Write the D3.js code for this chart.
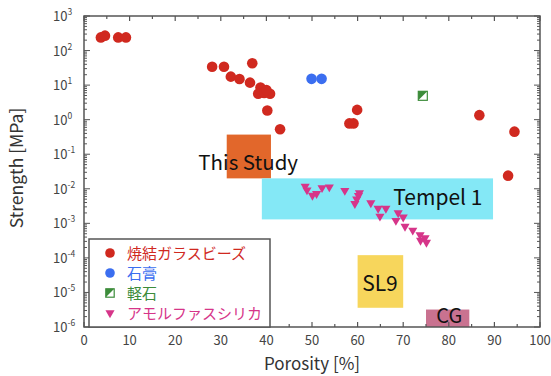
<!DOCTYPE html>
<html>
<head>
<meta charset="utf-8">
<script src="https://cdn.jsdelivr.net/npm/d3@7"></script>
<style>
  body { margin: 0; background: #fff; }
  text { font-family: "Noto Sans CJK JP", "Noto Sans", sans-serif; }
</style>
</head>
<body>
<div id="chart"></div>
<script>
// sintered glass beads
const sinteredGlass = [
  [3.7, 240], [4.6, 270], [7.5, 240], [9.2, 240],
  [28.1, 34], [30.7, 34], [32.2, 17.6], [34.1, 15], [36.9, 43],
  [36.4, 11.8], [38.7, 8.5], [38.2, 5.6], [39.5, 5.9], [40.8, 5.6],
  [40.0, 7.2], [40.2, 1.85], [43.0, 0.53],
  [58.2, 0.78], [59.1, 0.78], [59.9, 1.92],
  [86.7, 1.35], [94.4, 0.45], [93.0, 0.024]
];
const gypsum = [[49.9, 15.2], [52.1, 15.2]];
const pumice = [[74.3, 4.9]];
const amorphousSilica = [
  [48.5, 0.0118], [48.9, 0.0092], [50.1, 0.0064], [51.0, 0.0072],
  [52.2, 0.0107], [53.8, 0.0112], [57.2, 0.0089], [60.4, 0.0076],
  [60.2, 0.0063], [59.8, 0.0050], [59.4, 0.0037], [62.9, 0.0039],
  [64.5, 0.0027], [66.2, 0.0027], [64.9, 0.0016], [68.9, 0.0020],
  [70.0, 0.0015], [68.4, 0.0012], [70.4, 0.00081], [72.1, 0.00063],
  [73.7, 0.00046], [74.8, 0.00038], [73.8, 0.00032], [75.1, 0.00028]
];

// regions: name, x range, strength range
const regionNames = ["This Study", "Tempel 1", "SL9", "CG"];
const regionX = [[31.3, 41], [39, 89.7], [60, 70], [75, 84.5]];
const regionY = [[0.02, 0.37], [0.0013, 0.02], [3.6e-6, 1.2e-4], [1e-6, 3.2e-6]];
const regionColors = ["#e2672b", "#84e8f6", "#f7d65c", "#c97290"];
// label anchor (porosity, strength at baseline)
const regionLabelAt = [[36, 0.034], [77.6, 0.00345], [64.9, 1.1e-5], [80.1, 1.3e-6]];
const regionLabelSize = [20.5, 21, 21, 20];

const legendLabels = ["焼結ガラスビーズ", "石膏", "軽石", "アモルファスシリカ"];
const legendColors = ["#d0291f", "#3b6ef0", "#3c8c3a", "#d63589"];

const xTicks = [0, 10, 20, 30, 40, 50, 60, 70, 80, 90, 100];
const yExps = [-6, -5, -4, -3, -2, -1, 0, 1, 2, 3];

const width = 551, height = 376;
const margin = { left: 84, right: 11, top: 16, bottom: 49 };

const svg = d3.select("#chart").append("svg")
  .attr("width", width).attr("height", height);

const x = d3.scaleLinear().domain([0, 100]).range([margin.left, width - margin.right]);
const y = d3.scaleLog().domain([1e-6, 1e3]).range([height - margin.bottom, margin.top]);

const axisColor = "#555";

// colored regions
regionNames.forEach((name, i) => {
  svg.append("rect")
    .attr("x", x(regionX[i][0]))
    .attr("y", y(regionY[i][1]))
    .attr("width", x(regionX[i][1]) - x(regionX[i][0]))
    .attr("height", y(regionY[i][0]) - y(regionY[i][1]))
    .attr("fill", regionColors[i]);
});

// region labels
regionNames.forEach((name, i) => {
  svg.append("text")
    .attr("x", x(regionLabelAt[i][0])).attr("y", y(regionLabelAt[i][1]))
    .attr("text-anchor", "middle").attr("font-size", regionLabelSize[i])
    .attr("fill", "#111")
    .text(name);
});

// frame
svg.append("rect")
  .attr("x", x(0)).attr("y", y(1e3))
  .attr("width", x(100) - x(0)).attr("height", y(1e-6) - y(1e3))
  .attr("fill", "none").attr("stroke", axisColor).attr("stroke-width", 1.5);

// x ticks (major every 10, minor every 5), inward top and bottom
d3.range(0, 101, 5).forEach(v => {
  const len = v % 10 === 0 ? 5 : 3;
  svg.append("line").attr("x1", x(v)).attr("x2", x(v))
    .attr("y1", y(1e-6)).attr("y2", y(1e-6) - len)
    .attr("stroke", axisColor).attr("stroke-width", 1.2);
  svg.append("line").attr("x1", x(v)).attr("x2", x(v))
    .attr("y1", y(1e3)).attr("y2", y(1e3) + len)
    .attr("stroke", axisColor).attr("stroke-width", 1.2);
});
xTicks.forEach(v => {
  svg.append("text").attr("x", x(v)).attr("y", y(1e-6) + 18)
    .attr("text-anchor", "middle").attr("font-size", 13).attr("fill", "#444")
    .text(v);
});

// y ticks log, inward left and right
yExps.forEach(e => {
  for (let m = 1; m <= 9; m++) {
    const v = m * Math.pow(10, e);
    if (v > 1e3) break;
    const len = m === 1 ? 6 : 3;
    svg.append("line").attr("x1", x(0)).attr("x2", x(0) + len)
      .attr("y1", y(v)).attr("y2", y(v))
      .attr("stroke", axisColor).attr("stroke-width", 1);
    svg.append("line").attr("x1", x(100)).attr("x2", x(100) - len)
      .attr("y1", y(v)).attr("y2", y(v))
      .attr("stroke", axisColor).attr("stroke-width", 1);
  }
  const t = svg.append("text").attr("x", 53).attr("y", y(Math.pow(10, e)) + 5)
    .attr("font-size", 13).attr("fill", "#444");
  t.append("tspan").text("10");
  t.append("tspan").attr("dy", -6).attr("font-size", 8.5).text(e);
});

// markers
const tri = d3.symbol().type(d3.symbolTriangle).size(36);

function drawCircle(g, cx, cy, color, r) {
  g.append("circle").attr("cx", cx).attr("cy", cy).attr("r", r).attr("fill", color);
}
function drawPumice(g, cx, cy, s) {
  g.append("rect").attr("x", cx - s).attr("y", cy - s).attr("width", 2 * s).attr("height", 2 * s)
    .attr("fill", "#fff").attr("stroke", legendColors[2]).attr("stroke-width", 1.2);
  g.append("path")
    .attr("d", `M${cx - s},${cy - s}L${cx + s},${cy - s}L${cx - s},${cy + s}Z`)
    .attr("fill", legendColors[2]);
}
function drawTri(g, cx, cy) {
  g.append("path").attr("d", tri)
    .attr("transform", `translate(${cx},${cy}) rotate(180)`)
    .attr("fill", legendColors[3]);
}

const marks = svg.append("g");
sinteredGlass.forEach(d => drawCircle(marks, x(d[0]), y(d[1]), legendColors[0], 5.3));
gypsum.forEach(d => drawCircle(marks, x(d[0]), y(d[1]), legendColors[1], 5.3));
pumice.forEach(d => drawPumice(marks, x(d[0]), y(d[1]), 4.5));
amorphousSilica.forEach(d => drawTri(marks, x(d[0]), y(d[1])));

// legend
const lg = svg.append("g");
lg.append("rect").attr("x", 89).attr("y", 239).attr("width", 181).attr("height", y(1e-6) - 239)
  .attr("fill", "#fff").attr("stroke", axisColor).attr("stroke-width", 1.5);
legendLabels.forEach((label, i) => {
  const cy = 253 + i * 20;
  if (i < 2) drawCircle(lg, 110, cy, legendColors[i], 4.8);
  else if (i === 2) drawPumice(lg, 110, cy, 4.2);
  else drawTri(lg, 110, cy);
  lg.append("text").attr("x", 127).attr("y", cy + 5.5)
    .attr("font-size", 15).attr("fill", legendColors[i]).text(label);
});

// axis titles
svg.append("text").attr("x", x(50)).attr("y", 369.5)
  .attr("text-anchor", "middle").attr("font-size", 17).attr("fill", "#333")
  .text("Porosity [%]");
svg.append("text")
  .attr("transform", `translate(23,168) rotate(-90)`)
  .attr("text-anchor", "middle").attr("font-size", 17.5).attr("fill", "#333")
  .text("Strength [MPa]");
</script>
</body>
</html>
